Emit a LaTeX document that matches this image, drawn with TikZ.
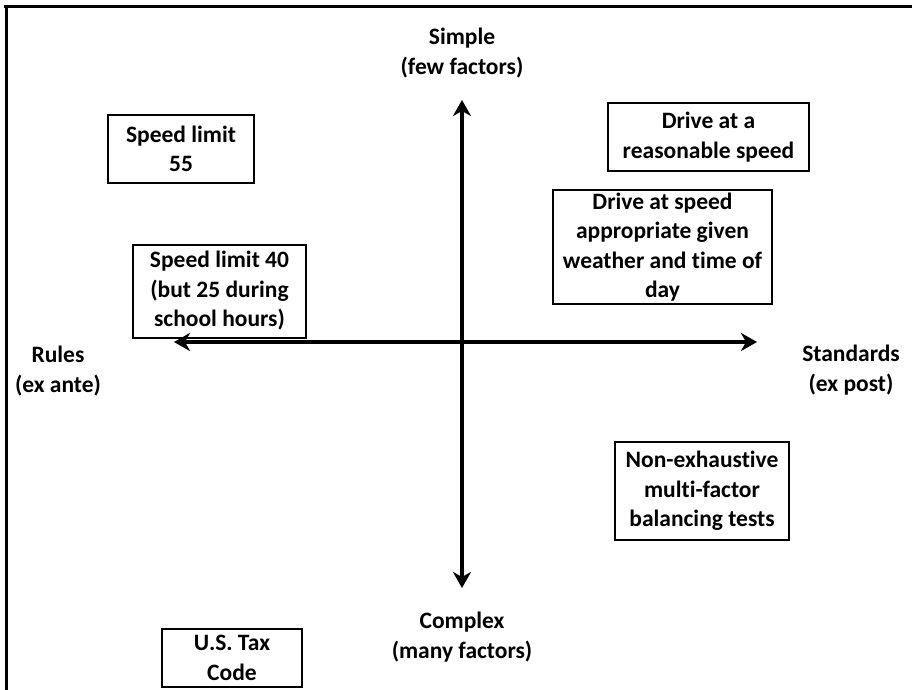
\documentclass[tikz,border=0pt]{standalone}
\usepackage{fontspec}
\setmainfont[Ligatures={NoCommon}]{Carlito}
\usetikzlibrary{arrows.meta}
\begin{document}
\begin{tikzpicture}[x=1pt,y=-1pt,
  lbl/.style={align=center,font=\bfseries\fontsize{23.5}{29.5}\selectfont,inner sep=0pt},
  box/.style={lbl,draw,line width=2pt},
  axis/.style={line width=4pt,{Stealth[length=16pt,width=18pt,inset=5pt]}-{Stealth[length=16pt,width=18pt,inset=5pt]}}]
\useasboundingbox (0,0) rectangle (912,690);
\fill[white] (0,0) rectangle (912,690);
% frame
\draw[line width=3pt] (4,7) -- (912,7);
\draw[line width=3pt] (6,5.5) -- (6,690);
% axes end points
\coordinate (top) at (462,100);
\coordinate (bot) at (462,588);
\coordinate (lft) at (174,342);
\coordinate (rgt) at (757,342);
\draw[axis] (bot) -- (top);
\draw[axis] (lft) -- (rgt);
% axis labels
\node[lbl] (simple) at (462,53) {Simple\\(few factors)};
\node[lbl] (complex) at (462,637) {Complex\\(many factors)};
\node[lbl] (rules) at (58,371) {Rules\\(ex ante)};
\node[lbl] (standards) at (851,370) {Standards\\(ex post)};
% boxes
\node[box,minimum width=146pt,minimum height=68pt] (b1) at (181,149) {Speed limit\\55};
\node[box,minimum width=173pt,minimum height=93pt] (b2) at (219.5,291) {Speed limit 40\\(but 25 during\\school hours)};
\node[box,minimum width=201pt,minimum height=68pt] (b3) at (708.5,137) {Drive at a\\reasonable speed};
\node[box,minimum width=219pt,minimum height=114pt] (b4) at (662.5,247) {Drive at speed\\appropriate given\\weather and time of\\day};
\node[box,minimum width=174pt,minimum height=98pt] (b5) at (702,491) {Non-exhaustive\\multi-factor\\balancing tests};
\node[box,minimum width=140pt,minimum height=58pt] (b6) at (232,658) {U.S. Tax\\Code};
\end{tikzpicture}
\end{document}
